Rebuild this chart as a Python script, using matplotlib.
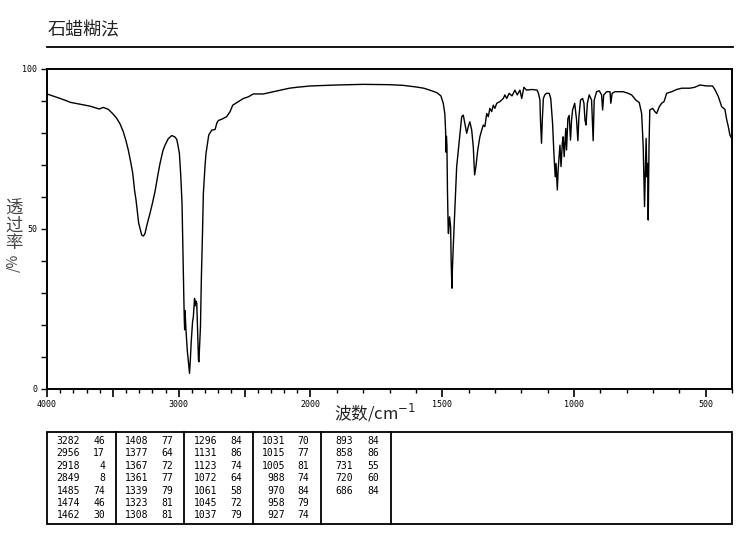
import numpy as np
import matplotlib
matplotlib.use('Agg')
import matplotlib.pyplot as plt
from matplotlib.patches import Rectangle
from matplotlib.ticker import FixedLocator, NullFormatter

plt.rcParams['font.family'] = ['Noto Sans CJK SC', 'DejaVu Sans']

title = '石蜡糊法'
xlabel = '波数/cm$^{-1}$'

# spectrum: wavenumber (cm-1) and transmittance (%)
wavenumber = [
    4000, 3950, 3901, 3860, 3825, 3749, 3674, 3603, 3573, 3535, 3500, 3471, 3445, 3421,
    3400, 3383, 3365, 3349, 3335, 3324, 3304, 3281, 3268, 3256, 3240, 3218, 3200, 3180,
    3160, 3142, 3120, 3104, 3080, 3053, 3030, 3015, 3005, 2995, 2985, 2975, 2968, 2962,
    2958, 2955, 2952, 2948, 2945, 2935, 2922, 2918, 2912, 2905, 2895, 2889, 2880, 2876,
    2870, 2863, 2858, 2850, 2847, 2842, 2835, 2828, 2820, 2813, 2800, 2793, 2772, 2749,
    2724, 2710, 2699, 2674, 2636, 2610, 2590, 2547, 2509, 2472, 2434, 2358, 2282, 2231,
    2160, 2100, 2000, 1900, 1800, 1700, 1650, 1600, 1570, 1547, 1520, 1505, 1496, 1490,
    1487, 1486, 1485, 1484, 1482, 1480, 1477, 1476, 1472, 1468, 1466, 1463, 1461, 1458,
    1452, 1445, 1435, 1426, 1420, 1414, 1407, 1401, 1395, 1388, 1382, 1377, 1372, 1365,
    1357, 1350, 1344, 1338, 1331, 1325, 1319, 1312, 1306, 1300, 1293, 1281, 1268, 1262,
    1255, 1246, 1235, 1224, 1215, 1205, 1198, 1190, 1180, 1160, 1140, 1135, 1129, 1127,
    1123, 1120, 1116, 1110, 1104, 1094, 1088, 1081, 1076, 1071, 1068, 1063, 1060, 1053,
    1049, 1044, 1041, 1037, 1031, 1028, 1023, 1018, 1013, 1009, 1005, 997, 990, 985,
    981, 975, 967, 962, 958, 954, 949, 942, 933, 927, 923, 914, 904, 895,
    891, 887, 876, 863, 860, 855, 844, 813, 794, 781, 765, 752, 743, 737,
    732, 728, 726, 723, 720, 718, 715, 712, 701, 693, 686, 676, 667, 658,
    648, 629, 610, 591, 560, 541, 522, 496, 474, 465, 452, 439, 427, 420,
    414, 408, 401,
]
transmittance = [
    92.2, 91.5, 90.8, 90.2, 89.6, 89.0, 88.4, 87.5, 88.0, 87.4, 86.0, 84.6, 82.8, 80.4,
    77.5, 74.7, 71.0, 67.4, 62.0, 59.0, 51.8, 48.1, 47.8, 48.6, 51.5, 54.9, 58.0, 61.7,
    66.5, 70.5, 74.5, 76.2, 78.2, 79.2, 78.8, 78.0, 76.0, 73.6, 67.0, 58.0, 42.0, 30.0,
    22.0, 18.5, 24.5, 21.0, 18.4, 12.0, 6.5, 4.9, 9.0, 14.8, 21.0, 22.6, 28.3, 26.0,
    27.5, 26.8, 19.5, 9.0, 8.5, 13.0, 19.5, 35.0, 48.0, 61.1, 70.0, 73.6, 79.4, 80.9,
    81.1, 83.2, 83.9, 84.3, 85.1, 86.7, 88.7, 89.8, 90.8, 91.3, 92.2, 92.2, 92.9, 93.4,
    94.0, 94.3, 94.7, 95.0, 95.2, 95.1, 94.9, 94.4, 94.0, 93.4, 92.6, 91.6, 89.3, 86.0,
    80.5, 75.0, 74.0, 79.0, 76.0, 62.0, 49.0, 48.6, 53.8, 50.7, 40.0, 31.5, 38.0, 44.5,
    55.9, 69.5, 77.8, 85.1, 85.6, 83.0, 79.9, 82.0, 83.5, 80.9, 75.7, 66.9, 69.5, 74.7,
    78.8, 80.9, 82.5, 82.0, 86.1, 85.1, 87.7, 86.7, 88.7, 87.7, 89.3, 89.8, 90.8, 91.9,
    90.8, 92.4, 91.6, 93.4, 91.9, 93.4, 90.8, 94.3, 93.4, 93.6, 93.4, 92.5, 90.3, 84.0,
    76.8, 84.1, 90.8, 92.0, 92.4, 92.4, 90.8, 83.0, 73.6, 66.3, 70.5, 62.2, 68.4, 76.2,
    69.5, 76.8, 78.8, 72.6, 81.4, 74.7, 84.5, 85.5, 77.8, 84.0, 87.2, 89.3, 84.1, 77.6,
    85.1, 90.3, 90.8, 89.3, 84.0, 82.5, 89.3, 91.9, 90.3, 77.6, 90.3, 92.9, 93.2, 91.9,
    87.2, 91.9, 92.9, 92.9, 89.3, 92.4, 92.9, 92.9, 92.4, 91.9, 90.3, 89.5, 86.1, 75.7,
    57.0, 70.5, 78.3, 66.3, 70.5, 52.8, 75.7, 87.2, 87.7, 86.7, 86.1, 88.2, 89.3, 89.8,
    92.4, 92.9, 93.6, 94.0, 94.0, 94.3, 95.0, 94.7, 94.7, 93.6, 91.4, 88.2, 87.4, 84.1,
    82.0, 79.4, 78.3,
]

# peak table
peak_wn = [3282, 2956, 2918, 2849, 1485, 1474, 1462,
           1408, 1377, 1367, 1361, 1339, 1323, 1308,
           1296, 1131, 1123, 1072, 1061, 1045, 1037,
           1031, 1015, 1005, 988, 970, 958, 927,
           893, 858, 731, 720, 686]
peak_t = [46, 17, 4, 8, 74, 46, 30,
          77, 64, 72, 77, 79, 81, 81,
          84, 86, 74, 64, 58, 72, 79,
          70, 77, 81, 74, 84, 79, 74,
          84, 86, 55, 60, 84]


# below 2000 cm-1 the axis is stretched twice
def fwd(w):
    w = np.asarray(w, dtype=float)
    return np.where(w >= 2000, w, 2 * w - 2000)


def inv(p):
    p = np.asarray(p, dtype=float)
    return np.where(p >= 2000, p, (p + 2000) / 2)


W, H = 737, 539
fig = plt.figure(figsize=(W / 100, H / 100), dpi=100)

ax = fig.add_axes([47 / W, 1 - 389 / H, (732 - 47) / W, (389 - 69) / H])
ax.set_xscale('function', functions=(fwd, inv))
ax.plot(wavenumber, transmittance, color='black', lw=1.0)
ax.set_xlim(4000, 400)
ax.set_ylim(0, 100)

for s in ax.spines.values():
    s.set_linewidth(1.4)

major_x = [4000, 3500, 3000, 2500, 2000, 1500, 1000, 500]
ax.xaxis.set_major_locator(FixedLocator(major_x))
ax.set_xticklabels(['4000', '', '3000', '', '2000', '1500', '1000', '500'])
ax.xaxis.set_minor_locator(FixedLocator([w for w in range(400, 4000, 100) if w not in major_x]))
ax.xaxis.set_minor_formatter(NullFormatter())
ax.yaxis.set_major_locator(FixedLocator([0, 50, 100]))
ax.yaxis.set_minor_locator(FixedLocator([10, 20, 30, 40, 60, 70, 80, 90]))
ax.tick_params(axis='x', which='major', length=6, width=1.2, labelsize=6, pad=2)
ax.tick_params(axis='x', which='minor', length=3, width=1.0)
ax.tick_params(axis='y', which='both', length=4, width=1.0, labelsize=6, pad=3)
for lab in ax.get_xticklabels() + ax.get_yticklabels():
    lab.set_family('DejaVu Sans Mono')

# overlay in pixel coordinates for title, axis labels and the peak table
ov = fig.add_axes([0, 0, 1, 1], zorder=-1)
ov.set_xlim(0, W)
ov.set_ylim(H, 0)
ov.axis('off')

ov.text(48, 30, title, fontsize=13, va='center', ha='left', color='#222222')
ov.plot([47, 733], [47, 47], color='black', lw=1.3)

ov.text(375, 413, xlabel, fontsize=12, ha='center', va='center', color='#222222')

ov.text(14, 226, '透\n过\n率', fontsize=12.5, ha='center', va='center', linespacing=0.95, color='#444444')
ov.text(14, 263, '/%', fontsize=10, ha='center', va='center', rotation=90, color='#444444')

ov.add_patch(Rectangle((47, 432), 732 - 47, 524 - 432, fill=False, lw=1.3, ec='black'))
for xs in [116, 184, 253, 321, 391]:
    ov.plot([xs, xs], [432, 524], color='black', lw=1.3)

wn_right = [80, 148, 217, 285, 353]
t_right = [105, 173, 242, 309, 379]
for i, (w, t) in enumerate(zip(peak_wn, peak_t)):
    col, row = divmod(i, 7)
    yy = 441 + row * 12.4
    ov.text(wn_right[col], yy, str(w), fontsize=7, family='DejaVu Sans Mono', ha='right', va='center')
    ov.text(t_right[col], yy, str(t), fontsize=7, family='DejaVu Sans Mono', ha='right', va='center')

fig.savefig('out.png', dpi=100)
